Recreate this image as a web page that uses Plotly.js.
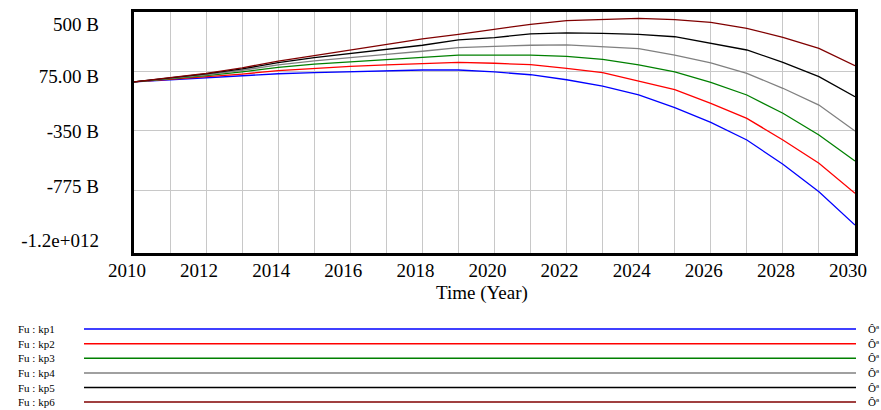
<!DOCTYPE html>
<html><head><meta charset="utf-8">
<script src="https://cdn.plot.ly/plotly-3.0.1.min.js"></script>
<style>html,body{margin:0;padding:0;background:#fff}</style>
</head><body>
<div id="chart" style="width:881px;height:410px"></div>
<script>
// ---- data (values in billions) ----
const years = [2010,2011,2012,2013,2014,2015,2016,2017,2018,2019,2020,2021,2022,2023,2024,2025,2026,2027,2028,2029,2030];
const kp1 = [0,14,28,43,58,66,74,80,85,85,71,51,15,-30,-94,-185,-290,-416,-590,-786,-1025];
const kp2 = [0,17,36,56,80,97,111,121,130,140,133,123,97,66,6,-56,-154,-261,-416,-583,-798];
const kp3 = [0,21,45,72,104,127,144,161,176,192,192,192,183,161,121,71,-3,-94,-225,-380,-567];
const kp4 = [0,24,51,83,121,150,176,197,219,245,254,262,264,252,238,192,135,61,-46,-166,-352];
const kp5 = [0,26,57,93,137,173,204,235,262,300,317,343,350,347,340,323,276,228,140,37,-106];
const kp6 = [0,28,61,100,149,187,228,269,307,340,376,412,438,447,455,445,426,383,319,240,116];
const seriesNames = ['Fu : kp1','Fu : kp2','Fu : kp3','Fu : kp4','Fu : kp5','Fu : kp6'];
const unitText = 'Ôª';
const yGridVals = [500,75,-350,-775,-1225];
const yTickLabels = ['500 B','75.00 B','-350 B','-775 B','-1.2e+012'];
const yLabelVals = [414,42,-352,-745,-1132];
const xTitle = 'Time (Year)';

// ---- styling ----
const colors = ['#0000ff','#ff0000','#008000','#808080','#000000','#800000'];
const allSeries = [kp1,kp2,kp3,kp4,kp5,kp6];
const FONT = 'Liberation Serif, Times New Roman, serif';
const plotL=134, plotR=855, plotT=12, plotB=253;
const px2x = p => (p-plotL)/(plotR-plotL);
const py2y = p => (plotB-p)/(plotB-plotT);

const traces = allSeries.map((s,i)=>({
  x: years, y: s, type:'scatter', mode:'lines', name: seriesNames[i],
  line:{color:colors[i], width:1.3}, hoverinfo:'skip'
}));
traces.push({x:[null], y:[null], yaxis:'y2', type:'scatter', mode:'lines', hoverinfo:'skip', showlegend:false});

const annotations = [];
const shapes = [];
const rowY = [329,343.7,358.3,373,387.5,402];
seriesNames.forEach((n,i)=>{
  annotations.push({xref:'paper', yref:'paper', x:px2x(16), y:py2y(rowY[i]), xanchor:'left', yanchor:'middle',
    text:n, showarrow:false, font:{family:FONT, size:11, color:'#000'}});
  annotations.push({xref:'paper', yref:'paper', x:px2x(866), y:py2y(rowY[i]), xanchor:'left', yanchor:'middle',
    text:unitText, showarrow:false, font:{family:FONT, size:11, color:'#000'}});
  shapes.push({type:'line', xref:'paper', yref:'paper', x0:px2x(84), x1:px2x(856), y0:py2y(rowY[i]), y1:py2y(rowY[i]),
    line:{color:colors[i], width:1.5}});
});
annotations.push({xref:'paper', yref:'paper', x:px2x(482), y:py2y(293), xanchor:'center', yanchor:'middle',
  text:xTitle, showarrow:false, font:{family:FONT, size:19, color:'#000'}});

const layout = {
  width:881, height:410,
  margin:{l:plotL, r:881-plotR, t:plotT, b:410-plotB, pad:0},
  paper_bgcolor:'#fff', plot_bgcolor:'#fff', showlegend:false,
  font:{family:FONT, size:19, color:'#000'},
  xaxis:{range:[2010,2030], tickvals:years, ticktext:years.map(y=>y%2===0?String(y):''),
    showgrid:true, gridcolor:'#c8c8c8', gridwidth:1, showline:true, mirror:true, linecolor:'#000', linewidth:3,
    ticks:'', zeroline:false, ticklabelshift:-7, ticklabelstandoff:-2, tickfont:{family:FONT, size:19}},
  yaxis:{range:[-1225,500], tickvals:yGridVals, showticklabels:false, showgrid:true, gridcolor:'#c8c8c8', gridwidth:1,
    showline:true, mirror:true, linecolor:'#000', linewidth:3, ticks:'', zeroline:false},
  yaxis2:{overlaying:'y', side:'left', range:[-1225,500], tickvals:yLabelVals, ticktext:yTickLabels,
    showgrid:false, zeroline:false, showline:false, ticks:'', ticklabelstandoff:34, tickfont:{family:FONT, size:19}},
  annotations: annotations, shapes: shapes
};
Plotly.newPlot('chart', traces, layout, {staticPlot:true, displayModeBar:false});
</script>
</body></html>
